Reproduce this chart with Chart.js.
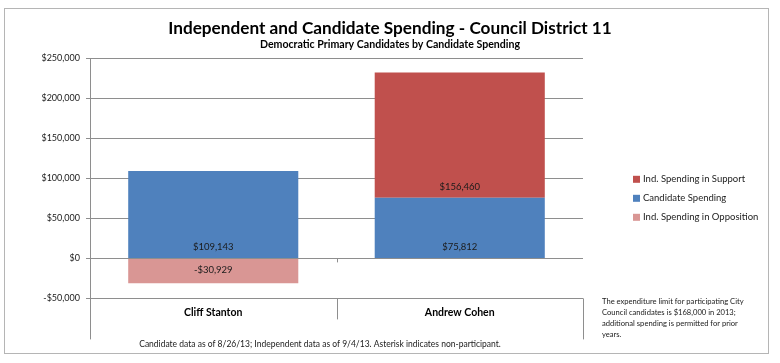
<!DOCTYPE html>
<html>
<head>
<meta charset="utf-8">
<script src="https://cdn.jsdelivr.net/npm/chart.js@4.4.0/dist/chart.umd.min.js"></script>
<style>
  html, body { margin: 0; padding: 0; background: #fff; }
  #wrap { width: 780px; height: 363px; }
</style>
</head>
<body>
<div id="wrap"><canvas id="spendChart"></canvas></div>
<script>
const candidates = ["Cliff Stanton", "Andrew Cohen"];
const candidateSpending = [109143, 75812];
const indSupport = [null, 156460];
const indOpposition = [-30929, null];
const yMin = -50000, yMax = 250000, yStep = 50000;

const noteLines = [
  "The expenditure limit for participating City",
  "Council candidates is $168,000 in 2013;",
  "additional spending is permitted for prior",
  "years."
];
const footnote = "Candidate data as of 8/26/13; Independent data as of 9/4/13. Asterisk indicates non-participant.";

const FONT = "Lato";
const GRID = "#8e8e8e";
const money = v => (v < 0 ? "-$" : "$") + Math.abs(v).toLocaleString("en-US");

// legend order as in the picture: support on top, opposition last
const legendOrder = [1, 0, 2];

const extras = {
  id: "extras",
  beforeDraw(chart) {
    const c = chart.ctx;
    c.save();
    c.fillStyle = "#fff";
    c.fillRect(0, 0, chart.width, chart.height);
    c.strokeStyle = "#b5b5b5";
    c.lineWidth = 1;
    c.strokeRect(4.5, 8.5, 764, 345);
    c.restore();
  },
  afterDraw(chart) {
    const c = chart.ctx;
    const a = chart.chartArea;
    const ys = chart.scales.y;
    const xs = chart.scales.x;
    const zero = ys.getPixelForValue(0);
    c.save();

    // axis box round the category row
    c.strokeStyle = GRID;
    c.lineWidth = 1;
    const l = Math.round(a.left) + 0.5, r = Math.round(a.right) + 0.5;
    const mid = Math.round((xs.getPixelForValue(0) + xs.getPixelForValue(1)) / 2) + 0.5;
    c.beginPath();
    c.moveTo(l, a.bottom);
    c.lineTo(l, a.bottom + 41);
    c.moveTo(r, a.bottom);
    c.lineTo(r, a.bottom + 41);
    c.moveTo(mid, a.bottom);
    c.lineTo(mid, a.bottom + 21);
    c.moveTo(mid, zero);
    c.lineTo(mid, zero + 4);
    c.stroke();

    // value labels at the base of each segment
    c.font = "9.5px " + FONT;
    c.fillStyle = "#1b1b1b";
    c.textAlign = "center";
    c.textBaseline = "middle";
    chart.data.datasets.forEach((ds, i) => {
      chart.getDatasetMeta(i).data.forEach((bar, j) => {
        const v = ds.data[j];
        if (v == null) return;
        const p = bar.getProps(["x", "base"], true);
        c.fillText(money(v), p.x, v > 0 ? p.base - 11 : p.base + 11);
      });
    });

    // legend
    c.textAlign = "left";
    c.font = "9.5px " + FONT;
    legendOrder.forEach((di, k) => {
      const ds = chart.data.datasets[di];
      const ly = a.top + 121 + k * 19;
      c.fillStyle = ds.backgroundColor;
      c.fillRect(a.right + 50, ly - 3.5, 7, 7);
      c.fillStyle = "#1b1b1b";
      c.fillText(ds.label, a.right + 60, ly);
    });

    // note
    c.font = "7.6px " + FONT;
    noteLines.forEach((t, k) => c.fillText(t, a.right + 19, a.bottom + 3 + k * 11));

    // footnote
    c.textAlign = "center";
    c.font = "8.5px " + FONT;
    c.fillText(footnote, 320, a.bottom + 46);
    c.restore();
  }
};

new Chart(document.getElementById("spendChart"), {
  type: "bar",
  data: {
    labels: candidates,
    datasets: [
      { label: "Candidate Spending", data: candidateSpending, backgroundColor: "#4f81bd" },
      { label: "Ind. Spending in Support", data: indSupport, backgroundColor: "#c0504d" },
      { label: "Ind. Spending in Opposition", data: indOpposition, backgroundColor: "#d99694" }
    ]
  },
  options: {
    responsive: true,
    maintainAspectRatio: false,
    animation: false,
    devicePixelRatio: 1,
    layout: { padding: { top: 8, left: 0, right: 0, bottom: 44 } },
    datasets: { bar: { barPercentage: 0.69, categoryPercentage: 1.0 } },
    plugins: {
      legend: { display: false },
      tooltip: { enabled: false },
      title: {
        display: true,
        text: "Independent and Candidate Spending - Council District 11",
        color: "#000",
        font: { family: FONT, size: 17.2, weight: "bold", lineHeight: 1 },
        padding: { top: 11.5, bottom: 0 }
      },
      subtitle: {
        display: true,
        text: "Democratic Primary Candidates by Candidate Spending",
        color: "#000",
        font: { family: FONT, size: 10.6, weight: "bold", lineHeight: 1 },
        padding: { top: 2.5, bottom: 8.5 }
      }
    },
    scales: {
      x: {
        stacked: true,
        grid: { display: false },
        border: { display: false },
        ticks: { color: "#000", font: { family: FONT, size: 10.5, weight: "bold", lineHeight: 1.2 }, padding: 0 }
      },
      y: {
        stacked: true,
        min: yMin,
        max: yMax,
        grid: { color: GRID, tickLength: 4 },
        border: { display: true, color: GRID },
        ticks: {
          stepSize: yStep,
          color: "#1b1b1b",
          font: { family: FONT, size: 9 },
          padding: 6,
          callback: v => money(v)
        },
        afterFit(s) { s.width = 90; }
      },
      yR: {
        position: "right",
        min: 0,
        max: 1,
        grid: { display: false },
        border: { display: false },
        ticks: { display: false },
        afterFit(s) { s.width = 197; }
      }
    }
  },
  plugins: [extras]
});
</script>
</body>
</html>
